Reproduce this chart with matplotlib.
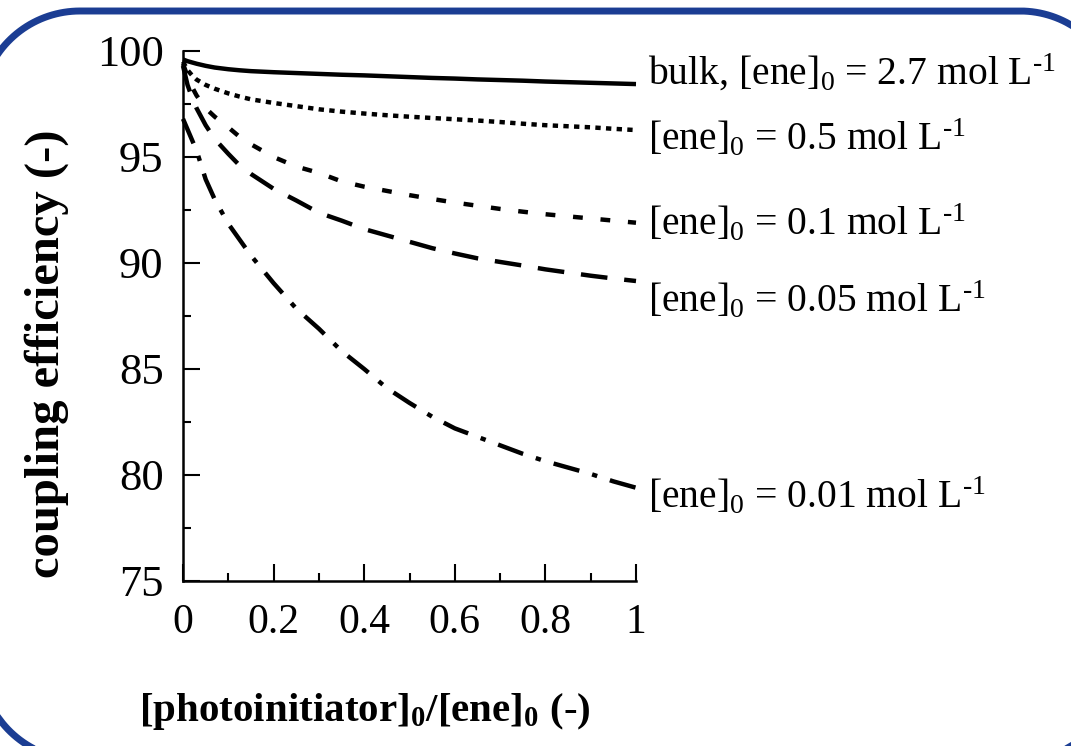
import numpy as np
import matplotlib
matplotlib.use("Agg")
import matplotlib.pyplot as plt
from matplotlib.lines import Line2D
from matplotlib.ticker import MultipleLocator

plt.rcParams['font.family'] = ['Liberation Serif', 'DejaVu Serif']
plt.rcParams['mathtext.fontset'] = 'custom'
plt.rcParams['mathtext.rm'] = 'Liberation Serif'
plt.rcParams['mathtext.it'] = 'Liberation Serif:italic'
plt.rcParams['mathtext.bf'] = 'Liberation Serif:bold'

# ratio [photoinitiator]0/[ene]0
ratio = [0, 0.01, 0.02, 0.03, 0.05, 0.07, 0.1, 0.125, 0.15, 0.2, 0.25, 0.3,
         0.35, 0.4, 0.45, 0.5, 0.55, 0.6, 0.65, 0.7, 0.75, 0.8, 0.85, 0.9, 0.95, 1.0]
eff_bulk = [99.6, 99.52, 99.46, 99.4, 99.3, 99.22, 99.14, 99.09, 99.05, 99.0, 98.96, 98.92,
            98.88, 98.85, 98.81, 98.77, 98.73, 98.7, 98.66, 98.63, 98.6, 98.56, 98.53, 98.5,
            98.47, 98.44]
eff_05 = [99.5, 99.1, 98.85, 98.65, 98.4, 98.22, 98.0, 97.85, 97.72, 97.55, 97.4, 97.25,
          97.14, 97.05, 96.97, 96.9, 96.84, 96.78, 96.72, 96.65, 96.57, 96.5, 96.45, 96.4,
          96.33, 96.27]
eff_01 = [99.4, 98.8, 98.3, 97.9, 97.3, 96.9, 96.4, 95.95, 95.6, 95.0, 94.55, 94.25,
          93.85, 93.6, 93.4, 93.2, 93.02, 92.85, 92.7, 92.55, 92.42, 92.3, 92.2, 92.1,
          92.0, 91.9]
eff_005 = [99.3, 98.4, 97.8, 97.3, 96.5, 95.85, 95.15, 94.6, 94.2, 93.5, 92.95, 92.37,
           92.0, 91.6, 91.3, 91.0, 90.7, 90.45, 90.22, 90.05, 89.88, 89.7, 89.55, 89.4,
           89.27, 89.15]
eff_001 = [96.8, 96.3, 95.8, 95.3, 93.95, 93.0, 91.85, 91.1, 90.35, 89.05, 87.85, 86.9,
           85.85, 85.0, 84.1, 83.4, 82.75, 82.2, 81.8, 81.4, 81.0, 80.65, 80.35, 80.05,
           79.7, 79.4]

series = [eff_bulk, eff_05, eff_01, eff_005, eff_001]
labels = [r'bulk, [ene]$_0$ = 2.7 mol L$^{\text{-1}}$',
          r'[ene]$_0$ = 0.5 mol L$^{\text{-1}}$',
          r'[ene]$_0$ = 0.1 mol L$^{\text{-1}}$',
          r'[ene]$_0$ = 0.05 mol L$^{\text{-1}}$',
          r'[ene]$_0$ = 0.01 mol L$^{\text{-1}}$']
styles = ['-', (0, (1.2, 1.2)), (0, (2.2, 4.0)), (0, (6.0, 3.8)), (0, (6.0, 3.0, 1.2, 3.0))]
label_baseline_px = [85, 150, 235, 312, 508]

W, H = 1071, 746
fig = plt.figure(figsize=(W / 100, H / 100), dpi=100)
ax = fig.add_axes([183 / W, (H - 581) / H, 453 / W, 530 / H])

for vals, ls in zip(series, styles):
    ax.plot(ratio, vals, color='black', lw=3.2, linestyle=ls, solid_capstyle='butt',
            dash_capstyle='butt', clip_on=False)

ax.set_xlim(0, 1)
ax.set_ylim(75, 100)
ax.xaxis.set_minor_locator(MultipleLocator(0.1))
ax.yaxis.set_major_locator(MultipleLocator(5))
ax.yaxis.set_minor_locator(MultipleLocator(2.5))
ax.set_xticks([0, 0.2, 0.4, 0.6, 0.8, 1.0])
ax.set_xticklabels(['0', '0.2', '0.4', '0.6', '0.8', '1'])
for s in ['top', 'right']:
    ax.spines[s].set_visible(False)
for s in ['left', 'bottom']:
    ax.spines[s].set_linewidth(1.8)
ax.tick_params(which='both', direction='in', width=1.5)
ax.tick_params(which='major', length=12)
ax.tick_params(which='minor', length=6)
ax.tick_params(axis='y', pad=14, labelsize=32)
ax.tick_params(axis='x', pad=16, labelsize=30)

for lab, yb in zip(labels, label_baseline_px):
    fig.text(648 / W, (H - yb) / H, lab, fontsize=28.5, ha='left', va='baseline')

fig.text(47 / W, (H - 354) / H, 'coupling efficiency (-)', rotation=90, fontsize=35,
         fontweight='bold', ha='center', va='center')
fig.text(365 / W, (H - 712) / H, r'[photoinitiator]$_\mathbf{0}$/[ene]$_\mathbf{0}$ (-)',
         fontsize=29.5, fontweight='bold', ha='center', va='center')

# rounded blue frame (pixel coords, y downward), converted to inches
L, T, R, B, r = -20, 11, 1120, 760, 100
def arc(cx, cy, a0, a1):
    t = np.radians(np.linspace(a0, a1, 40))
    return cx + r * np.cos(t), cy + r * np.sin(t)
pieces = [arc(L + r, T + r, 180, 270), arc(R - r, T + r, 270, 360),
          arc(R - r, B - r, 0, 90), arc(L + r, B - r, 90, 180)]
fx = np.concatenate([p[0] for p in pieces] + [pieces[0][0][:1]])
fy = np.concatenate([p[1] for p in pieces] + [pieces[0][1][:1]])
frame = Line2D(fx / 100, (H - fy) / 100, transform=fig.dpi_scale_trans,
               color='#1b3d93', lw=5, solid_joinstyle='round')
fig.add_artist(frame)

fig.savefig('out.png', dpi=100)
